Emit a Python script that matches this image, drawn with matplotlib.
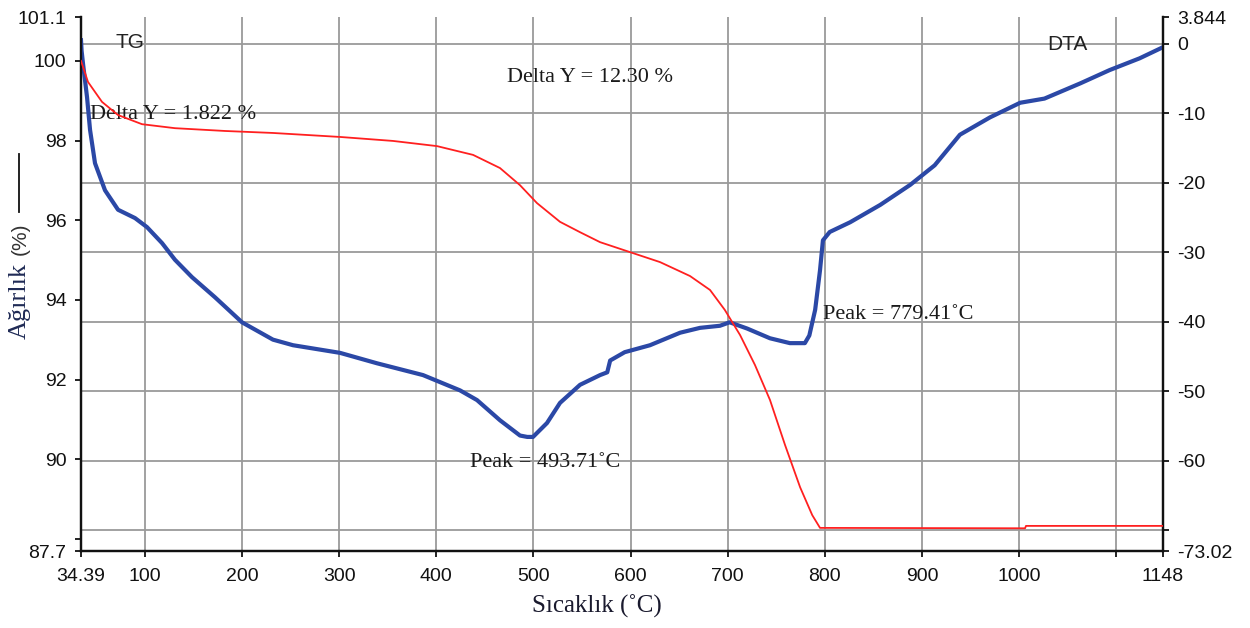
import matplotlib
matplotlib.use("Agg")
import matplotlib.pyplot as plt
from matplotlib.lines import Line2D
from matplotlib.ticker import FixedLocator, FixedFormatter

# ---------------- data ----------------
tg_temp = [34.39, 41.6, 56.0, 72.5, 97.2, 131.1, 182.6, 232.0, 301.0, 355.5,
           400.8, 437.9, 465.6, 486.2, 503.7, 527.4, 548.0, 568.6, 599.4,
           630.3, 661.2, 681.8, 697.0, 712.7, 728.0, 743.5, 759.0, 774.5,
           787.0, 795.0, 1006.0, 1007.0, 1148.0]
tg_weight = [100.0, 99.47, 98.97, 98.64, 98.41, 98.31, 98.24, 98.19, 98.09, 97.99,
             97.86, 97.64, 97.31, 96.88, 96.43, 95.96, 95.70, 95.45, 95.20,
             94.95, 94.60, 94.25, 93.75, 93.12, 92.37, 91.49, 90.36, 89.30,
             88.60, 88.28, 88.27, 88.33, 88.33]

dta_temp = [34.39, 35.0, 36.4, 40.6, 43.7, 48.8, 59.1, 72.5, 90.0, 102.3, 117.8,
            131.1, 148.6, 172.3, 200.1, 232.0, 252.6, 301.0, 339.0, 386.4,
            424.5, 442.0, 465.6, 486.2, 493.7, 499.6, 514.0, 527.4, 548.0,
            568.6, 576.0, 579.0, 594.0, 620.0, 651.0, 671.5, 692.0, 702.0,
            720.0, 743.5, 764.0, 779.4, 784.0, 790.0, 795.0, 798.0, 805.0,
            826.0, 857.0, 888.0, 913.0, 939.0, 970.0, 1001.0, 1026.0, 1063.0,
            1093.0, 1124.0, 1148.0]
dta_uv = [0.5, -1.0, -2.8, -7.7, -12.4, -17.2, -21.1, -23.9, -25.1, -26.4, -28.7,
          -31.1, -33.6, -36.5, -40.1, -42.6, -43.4, -44.5, -46.0, -47.7,
          -49.9, -51.3, -54.2, -56.4, -56.6, -56.6, -54.6, -51.7, -49.1,
          -47.7, -47.3, -45.6, -44.4, -43.4, -41.6, -40.9, -40.6, -40.1,
          -41.0, -42.4, -43.1, -43.1, -42.0, -38.3, -32.6, -28.3, -27.1,
          -25.7, -23.2, -20.3, -17.5, -13.1, -10.6, -8.5, -7.9, -5.7,
          -3.8, -2.1, -0.5]

x_major = [100, 200, 300, 400, 500, 600, 700, 800, 900, 1000, 1100]
x_major_labels = ["100", "200", "300", "400", "500", "600", "700", "800", "900", "1000", ""]
x_end = [34.39, 1148]
x_end_labels = ["34.39", "1148"]

tg_ticks = [87.7, 88, 90, 92, 94, 96, 98, 100, 101.1]
tg_labels = ["87.7", "", "90", "92", "94", "96", "98", "100", "101.1"]

dta_major = [-70, -60, -50, -40, -30, -20, -10, 0]
dta_major_labels = ["", "-60", "-50", "-40", "-30", "-20", "-10", "0"]
dta_end = [-73.02, 3.844]
dta_end_labels = ["-73.02", "3.844"]

# ---------------- figure ----------------
W, H = 1250, 628
fig = plt.figure(figsize=(W / 100, H / 100), dpi=100)
L, R, T, B = 81, 1163, 17, 551
ax = fig.add_axes([L / W, 1 - B / H, (R - L) / W, (B - T) / H])
axT = ax.twinx()

sans = "Liberation Sans"
serif = "Liberation Serif"
grid_c = "#9a9a9a"
tick_fs = 14

# DTA axis (main axes, ticks on the right)
ax.yaxis.tick_right()
ax.plot(dta_temp, dta_uv, color="#2b48a6", lw=3.0, solid_joinstyle="round", zorder=3)
ax.set_xlim(34.39, 1148)
ax.set_ylim(-73.02, 3.844)
ax.xaxis.set_major_locator(FixedLocator(x_major))
ax.xaxis.set_major_formatter(FixedFormatter(x_major_labels))
ax.xaxis.set_minor_locator(FixedLocator(x_end))
ax.xaxis.set_minor_formatter(FixedFormatter(x_end_labels))
ax.yaxis.set_major_locator(FixedLocator(dta_major))
ax.yaxis.set_major_formatter(FixedFormatter(dta_major_labels))
ax.yaxis.set_minor_locator(FixedLocator(dta_end))
ax.yaxis.set_minor_formatter(FixedFormatter(dta_end_labels))
ax.set_axisbelow(True)
ax.grid(True, which="major", color=grid_c, lw=1.3)
for which in ("major", "minor"):
    ax.tick_params(axis="x", which=which, direction="out", length=4, width=1.3,
                   pad=8, labelsize=tick_fs, colors="#111111")
    ax.tick_params(axis="y", which=which, direction="out", length=4.5, width=1.3,
                   pad=6, labelsize=tick_fs, colors="#111111",
                   left=False, labelleft=False, right=True, labelright=True)
for lab in ax.get_xticklabels(which="both") + ax.get_yticklabels(which="both"):
    lab.set_fontfamily(sans)

# TG axis (twin, ticks on the left)
axT.yaxis.tick_left()
axT.plot(tg_temp, tg_weight, color="#ff2020", lw=1.3, zorder=4)
axT.set_ylim(87.7, 101.1)
axT.yaxis.set_major_locator(FixedLocator(tg_ticks))
axT.yaxis.set_major_formatter(FixedFormatter(tg_labels))
axT.tick_params(axis="y", direction="out", length=4.5, width=1.3, pad=6,
                labelsize=tick_fs, colors="#111111", left=True, labelleft=True,
                right=False, labelright=False)
for lab in axT.get_yticklabels():
    lab.set_fontfamily(sans)

for a in (ax, axT):
    a.spines["top"].set_visible(False)
    for s in ("left", "right", "bottom"):
        a.spines[s].set_color("#111111")
        a.spines[s].set_linewidth(1.6)

# axis titles
fig.text(597 / W, 1 - 606 / H, "Sıcaklık (˚C)", ha="center", va="center",
         fontfamily=serif, fontsize=18, color="#1a1a2e")

fig.text(20 / W, 1 - 301 / H, "Ağırlık", rotation=90, ha="center", va="center",
         fontfamily=serif, fontsize=19, color="#1f2a55")
fig.text(20 / W, 1 - 239 / H, "(%)", rotation=90, ha="center", va="center",
         fontfamily=sans, fontsize=15, color="#333333")
fig.add_artist(Line2D([19 / W, 19 / W], [1 - 212 / H, 1 - 154 / H],
                      transform=fig.transFigure, color="#111111", lw=1.3))

# annotations
ann_fs = 16
ax.text(0.0453, 0.953, "TG", transform=ax.transAxes, ha="center", va="center",
        fontfamily=sans, fontsize=15, color="#222222")
ax.text(0.912, 0.948, "DTA", transform=ax.transAxes, ha="center", va="center",
        fontfamily=sans, fontsize=15, color="#222222")
ax.text(0.008, 0.818, "Delta Y = 1.822 %", transform=ax.transAxes, ha="left",
        va="center", fontfamily=serif, fontsize=ann_fs, color="#1a1a1a", zorder=5)
ax.text(0.3935, 0.886, "Delta Y = 12.30 %", transform=ax.transAxes, ha="left",
        va="center", fontfamily=serif, fontsize=ann_fs, color="#1a1a1a")
ax.text(0.3595, 0.165, "Peak = 493.71˚C", transform=ax.transAxes, ha="left",
        va="center", fontfamily=serif, fontsize=ann_fs, color="#1a1a1a")
ax.text(0.6858, 0.442, "Peak = 779.41˚C", transform=ax.transAxes, ha="left",
        va="center", fontfamily=serif, fontsize=ann_fs, color="#1a1a1a")

fig.savefig("out.png", dpi=100)
